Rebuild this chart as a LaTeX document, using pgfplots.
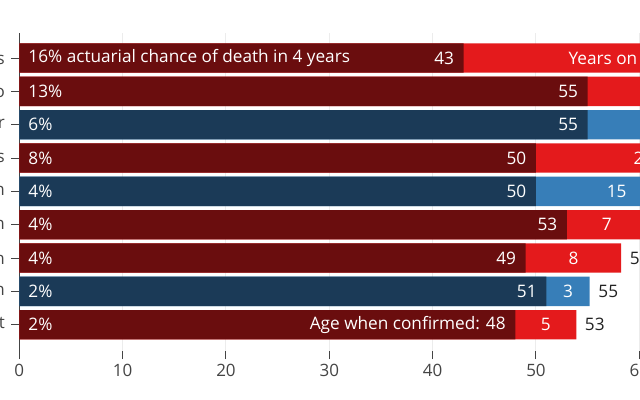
\documentclass[border=0pt]{standalone}
\usepackage{pgfplots}
\pgfplotsset{compat=1.18}
\usepackage{fontspec}
\setmainfont{Open Sans}

\definecolor{repdark}{RGB}{106,13,14}
\definecolor{replight}{RGB}{228,26,28}
\definecolor{demdark}{RGB}{27,58,87}
\definecolor{demlight}{RGB}{55,126,184}
\definecolor{tickgray}{RGB}{68,68,68}
\definecolor{gridgray}{RGB}{236,236,236}
\definecolor{labeldark}{RGB}{34,34,34}

\begin{document}
\begin{tikzpicture}
% the reference shows only part of a wider chart
\useasboundingbox (-19.3bp,-49bp) rectangle (620.7bp,351bp);
\clip (-19.3bp,-49bp) rectangle (620.7bp,351bp);
\begin{axis}[
    at={(0,0)}, anchor=south west,
    scale only axis, width=826.7bp, height=318bp,
    xmin=0, xmax=80, ymin=-0.79, ymax=8.75,
    xtick={0,10,...,80}, ytick={0,...,8},
    yticklabels={Amy Coney Barrett, Ketanji Brown Jackson, Neil Gorsuch,
        Brett Kavanaugh, Elena Kagan, John Roberts, Sonia Sotomayor,
        Samuel Alito, Clarence Thomas},
    axis lines*=left, x axis line style={draw=none},
    y axis line style={-, tickgray, line width=1bp},
    tick align=outside, major tick length=8bp,
    tick style={tickgray, line width=1bp},
    xmajorgrids, grid style={gridgray, line width=1bp},
    ticklabel style={font=\fontsize{17bp}{20bp}\selectfont, text=tickgray},
    yticklabel style={xshift=-3bp},
    xticklabel style={yshift=-2bp},
    /pgf/number format/assume math mode=true,
    point meta=explicit symbolic,
]

% bars: full length = current age, dark part = age when confirmed
\addplot[xbar, bar width=0.88, bar shift=0pt, fill=replight, draw=none]
    coordinates {(77.4,8) (75.6,7) (70.8,5) (60.7,3) (58.25,2) (53.9,0)};
\addplot[xbar, bar width=0.88, bar shift=0pt, fill=demlight, draw=none]
    coordinates {(71.4,6) (65.6,4) (55.2,1)};
\addplot[xbar, bar width=0.88, bar shift=0pt, fill=repdark, draw=none]
    coordinates {(43,8) (55,7) (50,5) (53,3) (49,2) (48,0)};
\addplot[xbar, bar width=0.88, bar shift=0pt, fill=demdark, draw=none]
    coordinates {(55,6) (50,4) (51,1)};

% chance of death, at the left
\addplot[draw=none, nodes near coords, nodes near coords style={anchor=west,
    xshift=9bp, inner sep=0pt, text=white, font=\fontsize{17.2bp}{20bp}\selectfont}]
    coordinates {(0,8) [16\% actuarial chance of death in 4 years]
    (0,7) [13\%] (0,6) [6\%] (0,5) [8\%] (0,4) [4\%] (0,3) [4\%]
    (0,2) [4\%] (0,1) [2\%] (0,0) [2\%]};
% age when confirmed
\addplot[draw=none, nodes near coords, nodes near coords style={anchor=east,
    xshift=-9.5bp, inner sep=0pt, text=white, font=\fontsize{17.2bp}{20bp}\selectfont}]
    coordinates {(43,8) [43] (55,7) [55] (55,6) [55] (50,5) [50] (50,4) [50]
    (53,3) [53] (49,2) [49] (51,1) [51] (48,0) [Age when confirmed: 48]};
% years on court
\addplot[draw=none, nodes near coords, nodes near coords style={anchor=center,
    inner sep=0pt, text=white, font=\fontsize{17.2bp}{20bp}\selectfont}]
    coordinates {(60.2,8) [Years on court: 34] (65.3,7) [19] (63.2,6) [16]
    (60.4,5) [20] (57.8,4) [15] (56.85,3) [7] (53.63,2) [8] (53.1,1) [3]
    (50.95,0) [5]};
% current age
\addplot[draw=none, nodes near coords, nodes near coords style={anchor=west,
    xshift=8.5bp, inner sep=0pt, text=labeldark, font=\fontsize{17.2bp}{20bp}\selectfont}]
    coordinates {(77.4,8) [77] (75.6,7) [75] (71.4,6) [71] (70.8,5) [70]
    (65.6,4) [65] (60.7,3) [60] (58.25,2) [58] (55.2,1) [55] (53.9,0) [53]};
\end{axis}
\end{tikzpicture}
\end{document}
